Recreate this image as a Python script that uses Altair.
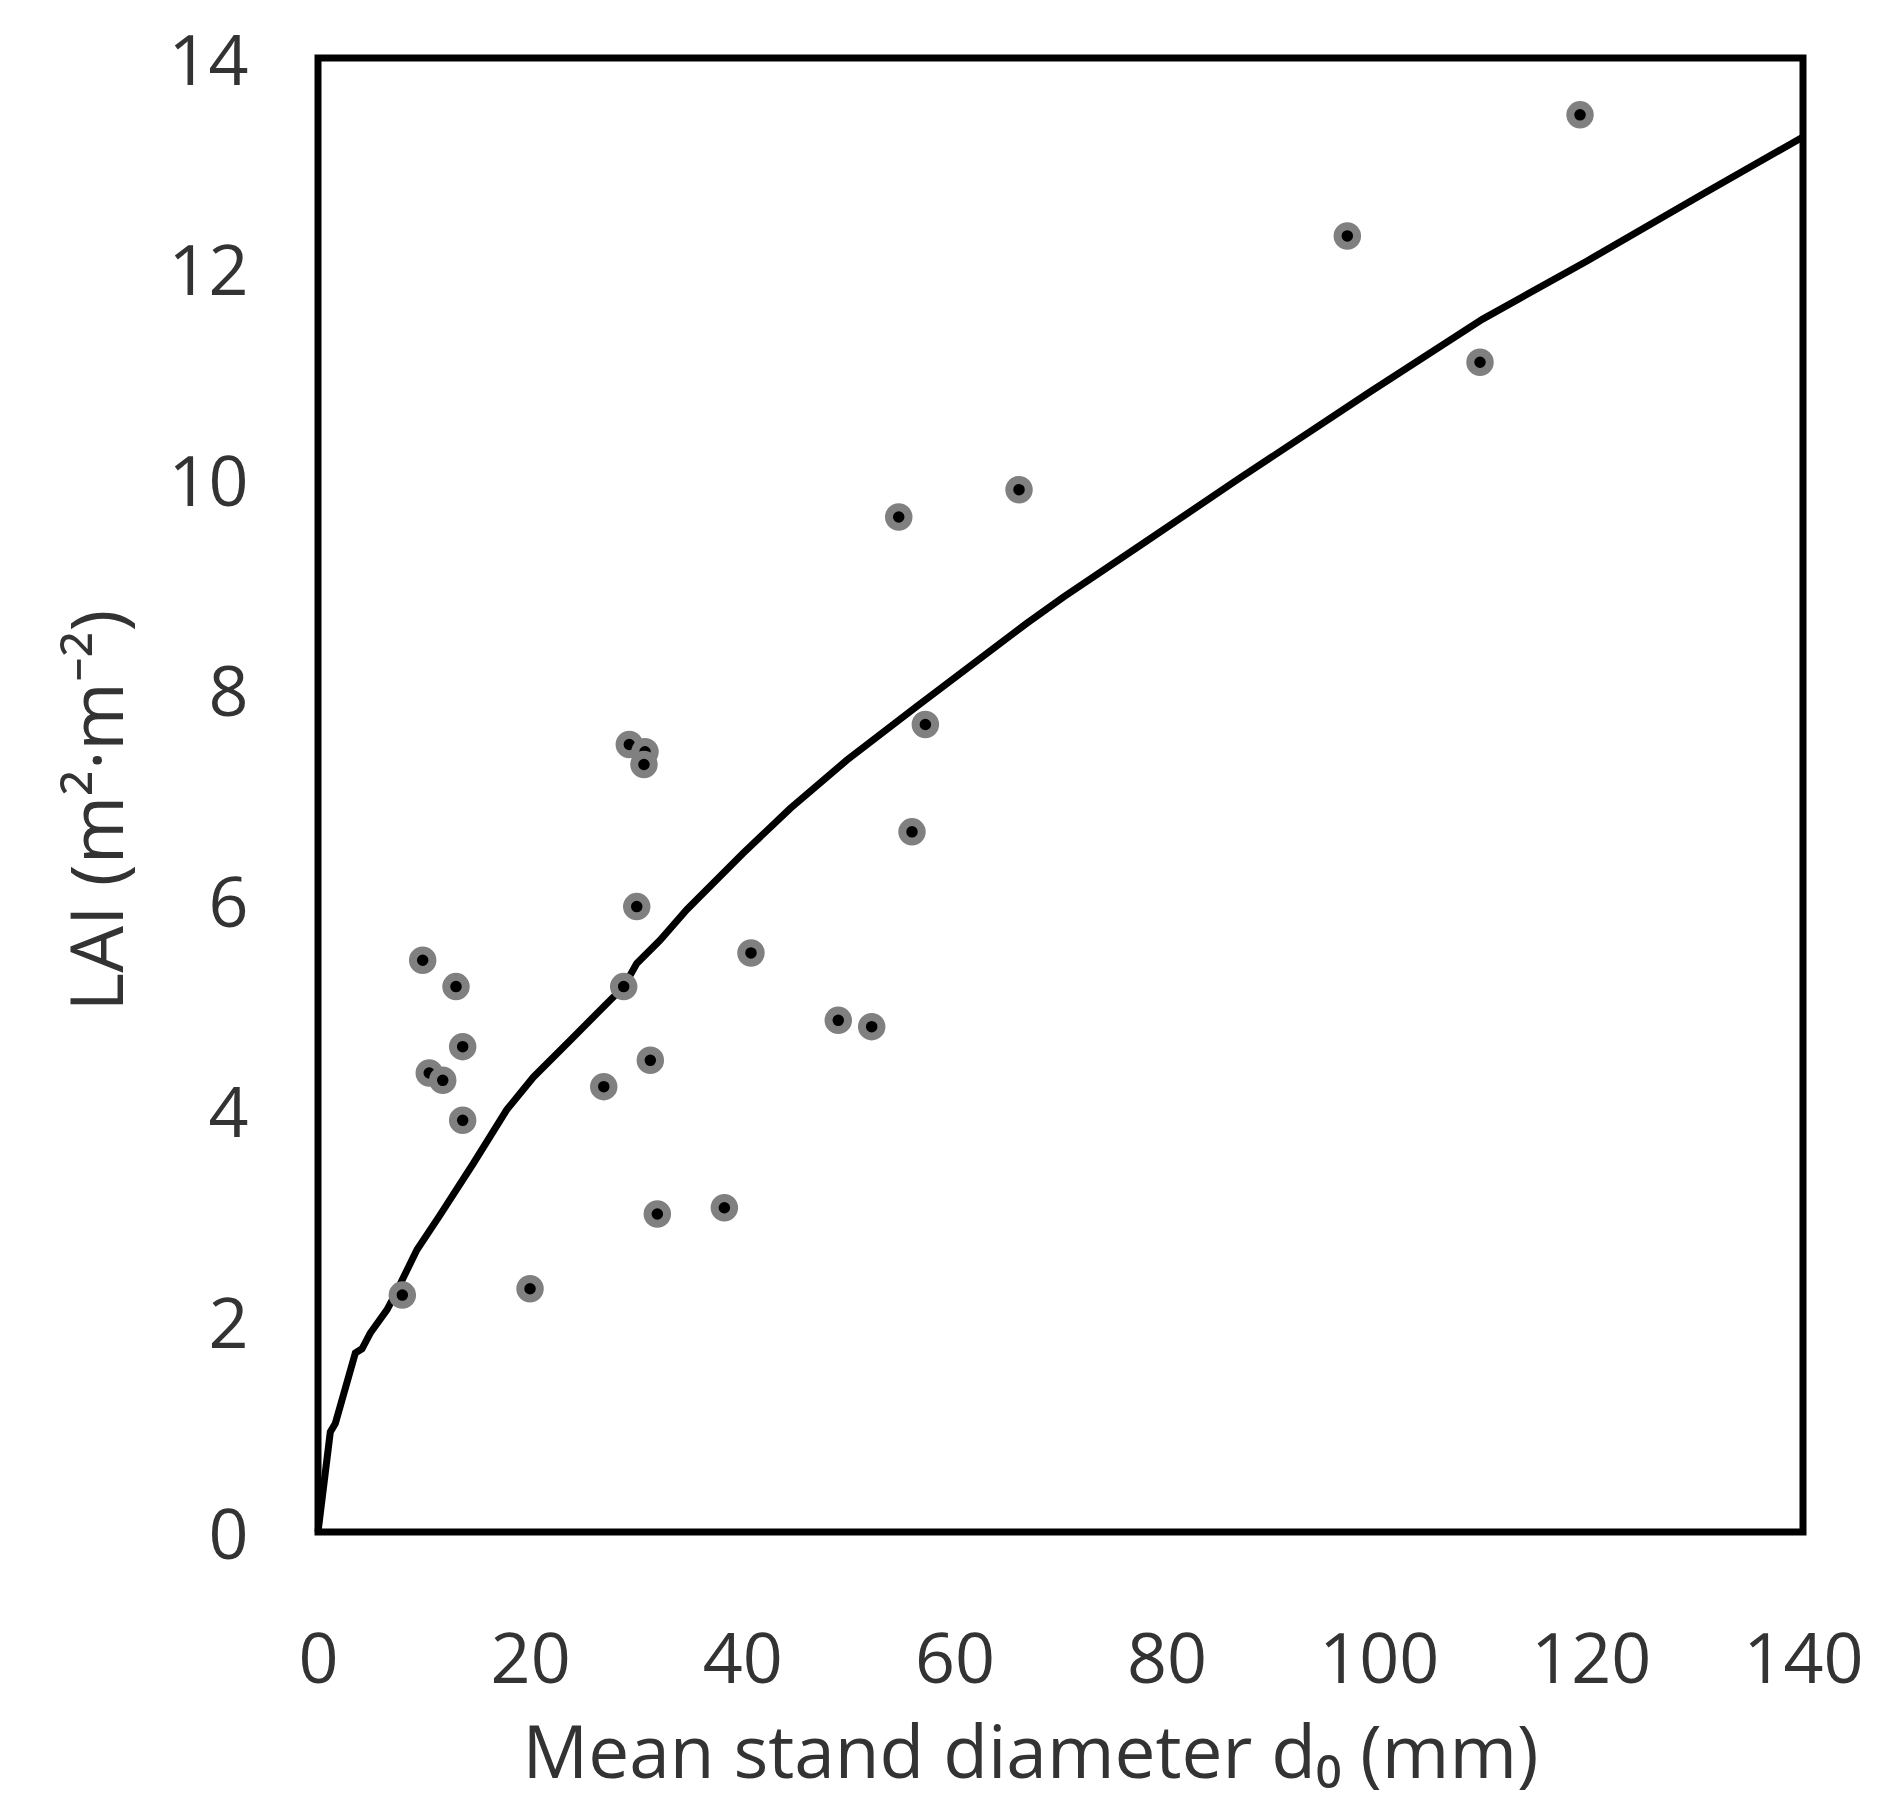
import altair as alt
import pandas as pd

# Observed points (mean stand diameter d0 in mm, LAI)
pt_x = [7.95, 9.87, 10.49, 11.76, 13.01, 13.64, 13.64, 19.99, 26.94, 28.82,
        29.35, 30.05, 30.83, 30.73, 31.33, 31.99, 38.31, 40.82, 49.05, 52.2,
        54.75, 56.0, 57.26, 66.09, 97.04, 109.55, 118.98]
pt_y = [2.25, 5.43, 4.36, 4.29, 5.18, 4.61, 3.91, 2.31, 4.23, 5.18,
        7.48, 5.94, 7.41, 7.29, 4.48, 3.02, 3.08, 5.50, 4.86, 4.80,
        9.64, 6.65, 7.67, 9.90, 12.31, 11.11, 13.46]

# Fitted curve
fit_x = [0.0, 1.16, 1.63, 3.52, 4.15, 4.93, 6.5, 7.14, 9.33, 11.5, 14.64, 17.79,
         20.3, 24.07, 28.82, 30.05, 32.24, 34.76, 40.1, 44.5, 49.84, 56.44,
         66.81, 70.27, 77.5, 86.61, 99.2, 109.8, 119.6, 130.6, 140.0]
fit_y = [0.0, 0.95, 1.03, 1.70, 1.74, 1.89, 2.11, 2.23, 2.68, 3.01, 3.50, 4.01,
         4.32, 4.70, 5.18, 5.40, 5.62, 5.91, 6.45, 6.87, 7.33, 7.84,
         8.63, 8.88, 9.37, 9.99, 10.83, 11.52, 12.07, 12.71, 13.25]

x_ticks = [0, 20, 40, 60, 80, 100, 120, 140]
y_ticks = [0, 2, 4, 6, 8, 10, 12, 14]

pts = pd.DataFrame({"d0": pt_x, "LAI": pt_y})
fit = pd.DataFrame({"d0": fit_x, "LAI": fit_y})

FONT = "Open Sans"
TXT = "#333333"

xscale = alt.Scale(domain=[0, 140], nice=False, zero=True)
yscale = alt.Scale(domain=[0, 14], nice=False, zero=True)

xaxis = alt.Axis(values=x_ticks, format="d", title="Mean stand diameter d₀ (mm)", grid=False,
                 ticks=False, tickSize=0, domain=False,
                 labelFont=FONT, labelFontSize=70, labelColor=TXT, labelPadding=95,
                 labelFlush=False, labelOverlap=False,
                 titleFont=FONT, titleFontSize=73, titleColor=TXT, titleFontWeight="normal",
                 titleX=712, titleY=245, titleAlign="center", titleBaseline="alphabetic")
yaxis = alt.Axis(values=y_ticks, format="d", title="LAI (m²·m⁻²)", grid=False,
                 ticks=False, tickSize=0, domain=False,
                 labelFont=FONT, labelFontSize=70, labelColor=TXT, labelPadding=70,
                 labelOffset=5, labelFlush=False, labelOverlap=False,
                 titleFont=FONT, titleFontSize=74, titleColor=TXT, titleFontWeight="normal",
                 titleX=-196, titleY=752, titleAngle=270, titleAlign="center",
                 titleBaseline="alphabetic")

line = alt.Chart(fit).mark_line(color="black", strokeWidth=7).encode(
    x=alt.X("d0:Q", scale=xscale, axis=xaxis),
    y=alt.Y("LAI:Q", scale=yscale, axis=yaxis),
)

points = alt.Chart(pts).mark_point(
    shape="circle", filled=True, fill="#000000", stroke="#808080",
    strokeWidth=8, size=380, opacity=1, fillOpacity=1, strokeOpacity=1,
).encode(
    x=alt.X("d0:Q", scale=xscale),
    y=alt.Y("LAI:Q", scale=yscale),
)

chart = alt.layer(line, points).properties(
    width=1485, height=1474,
    autosize=alt.AutoSizeParams(type="none"),
    padding={"left": 310, "top": 50, "right": 80, "bottom": 276},
    background="white",
).configure_view(stroke="black", strokeWidth=7)

chart.save("out.html", embed_options={"renderer": "svg", "actions": False})
